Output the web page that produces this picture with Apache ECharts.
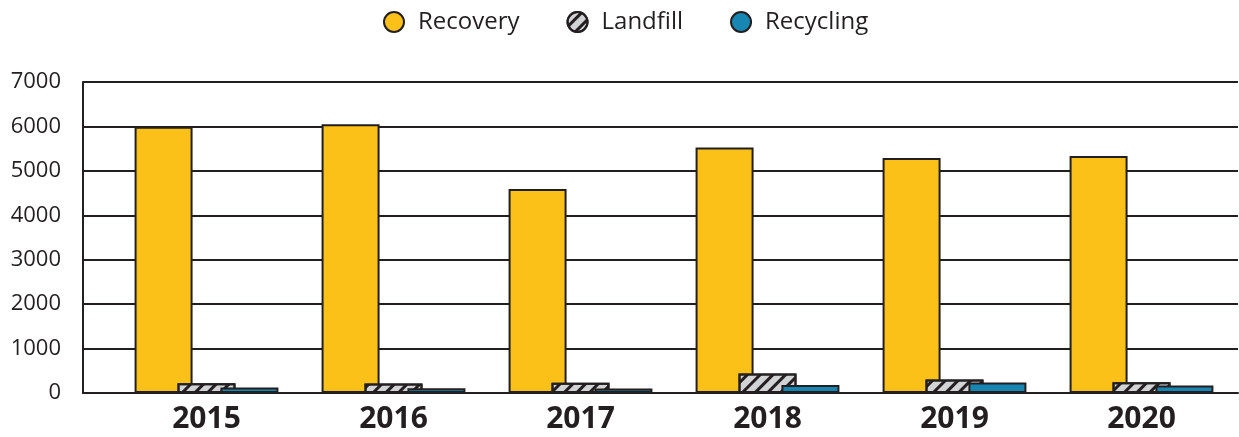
<!DOCTYPE html>
<html><head><meta charset="utf-8">
<script src="https://cdn.jsdelivr.net/npm/echarts@6/dist/echarts.min.js"></script>
<style>html,body{margin:0;padding:0;background:#fff}#c{width:1239px;height:437px}</style>
</head><body><div id="c"></div>
<script>
const categories = ['2015','2016','2017','2018','2019','2020'];
const recovery = [5990, 6050, 4590, 5525, 5290, 5335];
const landfill = [220, 215, 230, 440, 305, 240];
const recycling = [125, 105, 100, 178, 236, 170];
const yTicks = [0, 1000, 2000, 3000, 4000, 5000, 6000, 7000];

const ink = '#231f20';
const font = 'Open Sans';
const chart = echarts.init(document.getElementById('c'), null, {renderer: 'canvas'});
const border = {borderColor: ink, borderWidth: 2};
chart.setOption({
  animation: false,
  legend: {
    left: 378, top: 5, itemWidth: 20, itemHeight: 20, itemGap: 47, icon: 'circle',
    textStyle: {fontFamily: font, fontSize: 24, color: ink, padding: [0,0,0,9]},
    data: ['Recovery','Landfill','Recycling']
  },
  grid: [
    {left: 83, right: 1, top: 82, bottom: 44},
    {left: 113, right: 4, top: 82, bottom: 44}
  ],
  xAxis: [
    {gridIndex: 0, type: 'value', min: 0, max: 1, axisLine: {show: true, onZero: false, lineStyle: {color: ink, width: 2}},
     axisTick: {show: false}, axisLabel: {show: false}, splitLine: {show: false}},
    {gridIndex: 1, type: 'category', data: categories, axisLine: {show: false}, axisTick: {show: false},
     axisLabel: {fontFamily: font, fontWeight: 'bold', fontSize: 30, color: ink, margin: 11}}
  ],
  yAxis: [
    {gridIndex: 0, type: 'value', min: yTicks[0], max: yTicks[yTicks.length-1], interval: 1000,
     axisLine: {show: true, lineStyle: {color: ink, width: 2}}, axisTick: {show: false},
     axisLabel: {fontFamily: font, fontSize: 22, color: ink, margin: 22, padding: [5,0,0,0], formatter: v => String(v)},
     splitLine: {show: true, lineStyle: {color: ink, width: 2}}},
    {gridIndex: 1, type: 'value', min: yTicks[0], max: yTicks[yTicks.length-1], interval: 1000, show: false, splitLine: {show: false}}
  ],
  series: [
    {name: 'Recovery', type: 'bar', xAxisIndex: 1, yAxisIndex: 1, data: recovery, barWidth: 58, barGap: '-26%',
     itemStyle: Object.assign({color: '#fcc118'}, border)},
    {name: 'Landfill', type: 'bar', xAxisIndex: 1, yAxisIndex: 1, data: landfill, barWidth: 58, barGap: '-26%',
     itemStyle: Object.assign({color: '#d1d3d4', decal: {symbol: 'rect', symbolSize: 1, color: ink, dashArrayX: [1, 0], dashArrayY: [2.5, 6], rotation: -Math.PI / 4}}, border)},
    {name: 'Recycling', type: 'bar', xAxisIndex: 1, yAxisIndex: 1, data: recycling, barWidth: 58, barGap: '-26%',
     itemStyle: Object.assign({color: '#1886b2'}, border)}
  ]
});
</script></body></html>
